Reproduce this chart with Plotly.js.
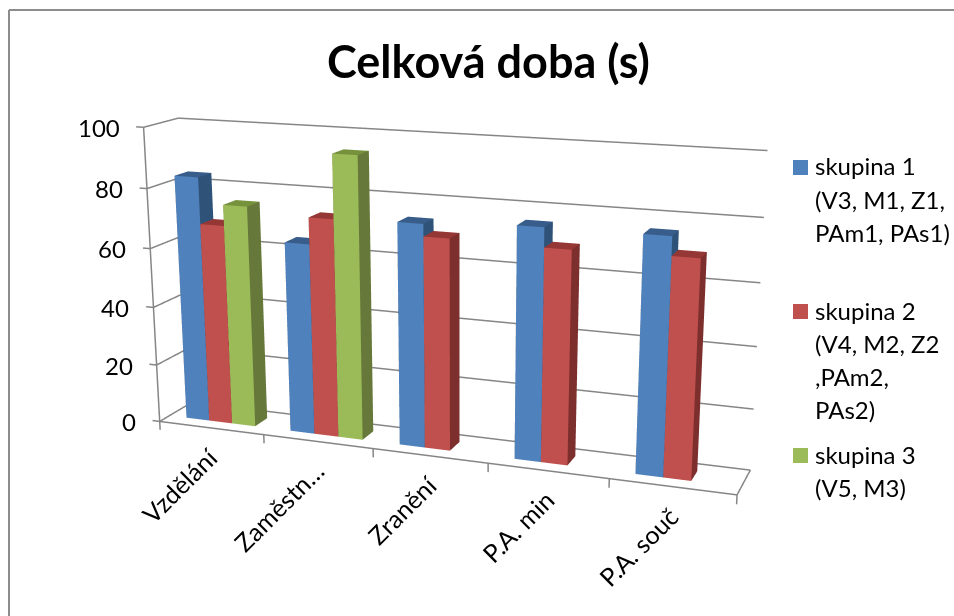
<!DOCTYPE html>
<html><head><meta charset="utf-8">
<script src="https://cdn.plot.ly/plotly-3.0.1.min.js"></script>
<style>
html,body{margin:0;padding:0;background:#fff;width:954px;height:616px;overflow:hidden}
#chart{position:absolute;left:-41px;top:-319px;width:1000px;height:1316px}
</style>
</head><body><div id="chart"></div>
<script>
// Chart data
const categories=['Vzdělání','Zaměstn…','Zranění','P.A. min','P.A. souč'];
const group1=[83.5,64.2,73.7,75.5,75.7];
const group2=[68,73,69.7,69.2,69.7];
const group3=[75,94,null,null,null];
const valueTicks=[0,20,40,60,80,100];
const legendGroup1=['skupina 1','(V3, M1, Z1,','PAm1, PAs1)'];
const legendGroup2=['skupina 2','(V4, M2, Z2',',PAm2,','PAs2)'];
const legendGroup3=['skupina 3','(V5, M3)'];

// The drawing area is larger than the window so the 3D view keeps a long focal length.
const W=1000,H=1316,LEFT=41,TOP=319;
const px=x=>(x+LEFT)/W, py=y=>1-(y+TOP)/H;

const sx=.393,sy=.222;
const blue=['#4F81BD','#2F5378','#385D8A'],red=['#C0504D','#7D2F2D','#953735'],green=['#9BBB59','#66783A','#76923C'];
const BAR=.222,START=.167,D0=.3,D1=.7;

// One box per value, painted face by face: front, right side, top, and the hidden ones.
function barMesh(vals,s,col,name){
 const X=[],Y=[],Z=[],I=[],J=[],K=[],C=[];
 vals.forEach((v,c)=>{
  if(v==null)return;
  const a=c+START+s*BAR,b=a+BAR,o=X.length;
  [[a,D0,0],[b,D0,0],[b,D1,0],[a,D1,0],[a,D0,v],[b,D0,v],[b,D1,v],[a,D1,v]].forEach(q=>{X.push(q[0]);Y.push(q[1]);Z.push(q[2])});
  const quad=(p,q,r,t,f)=>{I.push(o+p,o+p);J.push(o+q,o+r);K.push(o+r,o+t);C.push(f,f)};
  quad(0,1,5,4,col[0]);quad(1,2,6,5,col[1]);quad(4,5,6,7,col[2]);quad(3,0,4,7,col[1]);quad(2,3,7,6,col[1]);quad(0,3,2,1,col[1]);
 });
 return {type:'mesh3d',x:X,y:Y,z:Z,i:I,j:J,k:K,facecolor:C,flatshading:true,lighting:{ambient:1,diffuse:0,specular:0,fresnel:0},hoverinfo:'skip',name};
}

// Walls, floor edges and tick marks
const lx=[],ly=[],lz=[];
const seg=(a,b)=>{lx.push(a[0],b[0],null);ly.push(a[1],b[1],null);lz.push(a[2],b[2],null)};
valueTicks.forEach(z=>{seg([0,1,z],[5,1,z]);seg([0,0,z],[0,1,z]);seg([0,0,z],[-.07,0,z])});
seg([0,0,0],[0,0,100]);seg([0,0,0],[5,0,0]);seg([5,0,0],[5,1,0]);
[0,1,2,3,4,5].forEach(c=>seg([c,0,0],[c,0,-3]));

const data=[
 {type:'scatter3d',mode:'lines',x:lx,y:ly,z:lz,line:{color:'#868686',width:3},hoverinfo:'skip'},
 barMesh(group1,0,blue,legendGroup1[0]),
 barMesh(group2,1,red,legendGroup2[0]),
 barMesh(group3,2,green,legendGroup3[0])
];

const ax={visible:false,showgrid:false,zeroline:false,showticklabels:false,showbackground:false};
const txt={family:'Lato, sans-serif',size:24,color:'#000'};
const sceneNotes=[];
valueTicks.forEach(z=>sceneNotes.push({x:0,y:0,z:z,text:String(z),showarrow:false,xanchor:'right',yanchor:'middle',xshift:-22,font:txt}));
categories.forEach((n,c)=>sceneNotes.push({x:c+.5,y:0,z:0,text:n,showarrow:false,xanchor:'right',yanchor:'top',textangle:-45,yshift:-11,xshift:15,font:{...txt,size:25}}));

// Legend: swatch plus wrapped text lines
const shapes=[],notes=[];
const addLegend=(lines,col,top)=>{
 shapes.push({type:'rect',xref:'paper',yref:'paper',x0:px(793),x1:px(808),y0:py(top),y1:py(top+15),fillcolor:col,line:{width:0}});
 lines.forEach((t,i)=>notes.push({xref:'paper',yref:'paper',x:px(813),y:py(top+6+33*i),text:t,showarrow:false,xanchor:'left',yanchor:'middle',font:{...txt,size:24}}));
};
addLegend(legendGroup1,blue[0],160);
addLegend(legendGroup2,red[0],304);
addLegend(legendGroup3,green[0],448);
// Outer chart frame
const frame={type:'line',xref:'paper',yref:'paper',line:{color:'#8c8c8c',width:2}};
shapes.push({...frame,x0:px(9),x1:px(9),y0:py(10),y1:py(616)},{...frame,x0:px(9),x1:px(954),y0:py(10),y1:py(10)});

const layout={width:W,height:H,margin:{l:0,r:0,t:0,b:0},paper_bgcolor:'#fff',showlegend:false,shapes,annotations:notes,
 title:{text:'<b>Celková doba (s)</b>',xref:'paper',yref:'paper',x:px(488.5),xanchor:'center',y:py(62),yanchor:'middle',font:{family:'Lato, sans-serif',size:45,color:'#000'}},
 scene:{domain:{x:[0,1],y:[0,1]},dragmode:'orbit',aspectmode:'manual',aspectratio:{x:sx*6,y:sy*3,z:1.2},
  xaxis:{...ax,range:[-.5,5.5]},yaxis:{...ax,range:[-1,2]},zaxis:{...ax,range:[-10,110]},
  camera:{eye:{x:1.725,y:-4.557,z:1.25},center:{x:.356,y:-.814,z:.111},up:{x:0,y:0,z:1},projection:{type:'perspective'}},annotations:sceneNotes}};
Plotly.newPlot('chart',data,layout,{displayModeBar:false});
</script></body></html>
